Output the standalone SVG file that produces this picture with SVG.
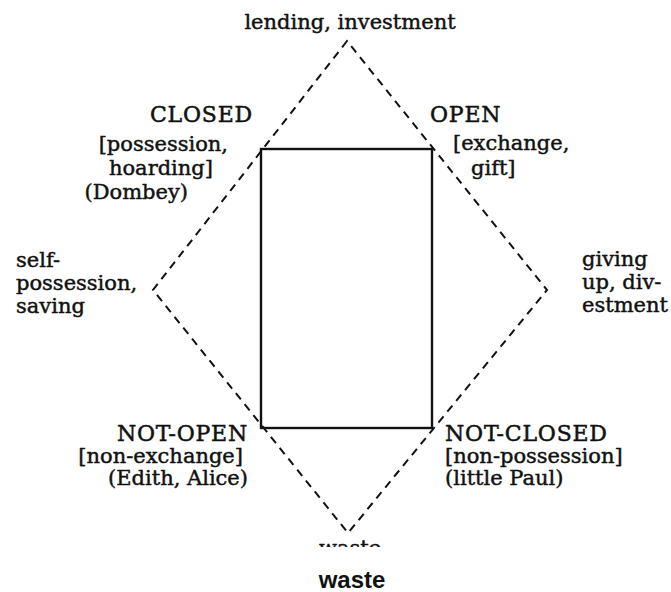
<svg xmlns="http://www.w3.org/2000/svg" width="671" height="592" viewBox="0 0 671 592">
  <style>
    .lbl { font-family: "DejaVu Serif", "Liberation Serif", serif; font-size: 21px; fill: #111; stroke: #111; stroke-width: 0.45; }
    .cap { font-family: "DejaVu Serif", "Liberation Serif", serif; font-size: 22px; letter-spacing: 0.8px; fill: #111; stroke: #111; stroke-width: 0.5; }
    .end { text-anchor: end; }
    .dash { fill: none; stroke: #111; stroke-width: 2; stroke-dasharray: 8 6; }
    .box { fill: none; stroke: #111; stroke-width: 2.4; }
    .title { font-family: "Liberation Sans", Arial, sans-serif; font-size: 24px; font-weight: bold; fill: #111; }
  </style>
  <defs>
    <clipPath id="cut">
      <rect x="0" y="0" width="671" height="547"/>
    </clipPath>
  </defs>
  <rect width="671" height="592" fill="#fff"/>

  <!-- dashed diamond and the inner square of opposition -->
  <g id="connectors">
    <path class="dash" d="M347 41 L153 290 L348 533 L547 290 Z"/>
    <rect class="box" x="261" y="149" width="171" height="279"/>
  </g>

  <g id="top">
    <text class="lbl" x="350" y="29" text-anchor="middle">lending, investment</text>
  </g>

  <g id="closed">
    <text class="cap end" x="253" y="122">CLOSED</text>
    <text class="lbl end" x="228" y="151">[possession,</text>
    <text class="lbl end" x="213" y="175">hoarding]</text>
    <text class="lbl end" x="188" y="199">(Dombey)</text>
  </g>

  <g id="open">
    <text class="cap" x="430" y="122">OPEN</text>
    <text class="lbl" x="453" y="150">[exchange,</text>
    <text class="lbl" x="471" y="175">gift]</text>
  </g>

  <g id="left">
    <text class="lbl" x="16" y="267">self-</text>
    <text class="lbl" x="16" y="290">possession,</text>
    <text class="lbl" x="16" y="313">saving</text>
  </g>

  <g id="right">
    <text class="lbl" x="582" y="266">giving</text>
    <text class="lbl" x="582" y="289">up, div-</text>
    <text class="lbl" x="582" y="312">estment</text>
  </g>

  <g id="not-open">
    <text class="cap end" x="248" y="441">NOT-OPEN</text>
    <text class="lbl end" x="243" y="463">[non-exchange]</text>
    <text class="lbl end" x="248" y="485">(Edith, Alice)</text>
  </g>

  <g id="not-closed">
    <text class="cap" x="445" y="441">NOT-CLOSED</text>
    <text class="lbl" x="445" y="463">[non-possession]</text>
    <text class="lbl" x="445" y="485">(little Paul)</text>
  </g>

  <g id="bottom">
    <text class="lbl" x="350" y="555" text-anchor="middle" clip-path="url(#cut)">waste</text>
  </g>

  <g id="caption">
    <text class="title" x="352" y="588" text-anchor="middle">waste</text>
  </g>
</svg>
